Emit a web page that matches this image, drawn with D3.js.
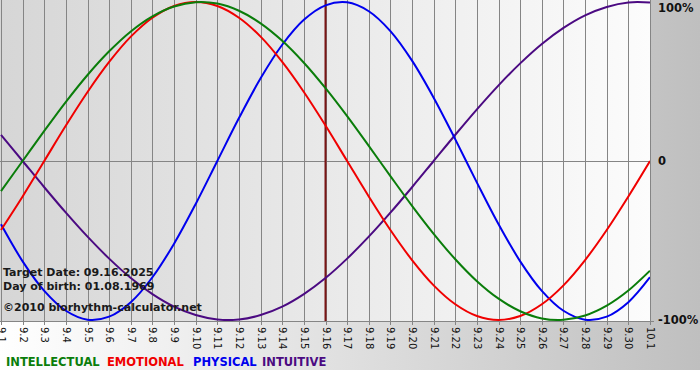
<!DOCTYPE html>
<html><head><meta charset="utf-8">
<script src="https://cdn.jsdelivr.net/npm/d3@7"></script>
<style>body{margin:0;background:#fff}svg{display:block}</style>
</head><body>
<svg id="c" width="700" height="380"></svg>
<script>
const days = ["9.1","9.2","9.3","9.4","9.5","9.6","9.7","9.8","9.9","9.10","9.11","9.12","9.13","9.14","9.15","9.16","9.17","9.18","9.19","9.20","9.21","9.22","9.23","9.24","9.25","9.26","9.27","9.28","9.29","9.30","10.1"];
const intellectual = [-0.189,0,0.189,0.372,0.541,0.690,0.815,0.910,0.972,0.999,0.990,0.945,0.866,0.756,0.618,0.458,0.282,0.095,-0.095,-0.282,-0.458,-0.618,-0.756,-0.866,-0.945,-0.990,-0.999,-0.972,-0.910,-0.815,-0.690];
const emotional = [-0.434,-0.223,0,0.223,0.434,0.623,0.782,0.901,0.975,1,0.975,0.901,0.782,0.623,0.434,0.223,0,-0.223,-0.434,-0.623,-0.782,-0.901,-0.975,-1,-0.975,-0.901,-0.782,-0.623,-0.434,-0.223,0];
const physical = [-0.398,-0.631,-0.817,-0.942,-0.998,-0.979,-0.888,-0.731,-0.520,-0.270,0,0.270,0.520,0.731,0.888,0.979,0.998,0.942,0.817,0.631,0.398,0.136,-0.136,-0.398,-0.631,-0.817,-0.942,-0.998,-0.979,-0.888,-0.731];
const intuitive = [0.165,0,-0.165,-0.325,-0.476,-0.614,-0.736,-0.837,-0.916,-0.969,-0.997,-0.997,-0.969,-0.916,-0.837,-0.736,-0.614,-0.476,-0.325,-0.165,0,0.165,0.325,0.476,0.614,0.736,0.837,0.916,0.969,0.997,0.997];
const yTicks = [1, 0, -1];
const yTickLabels = ["100%", "0", "-100%"];
const seriesNames = ["INTELLECTUAL","EMOTIONAL","PHYSICAL","INTUITIVE"];
const targetDay = "9.16";
const infoLines = ["Target Date: 09.16.2025","Day of birth: 01.08.1969","©2010 biorhythm-calculator.net"];

const colors = ["#0a7d0a","#f00000","#0000ee","#4b0a82"];
const seriesData = [intellectual, emotional, physical, intuitive];

const svg = d3.select("#c");
const defs = svg.append("defs");
const g1 = defs.append("linearGradient").attr("id","outer").attr("x1","0").attr("x2","1").attr("y1","0").attr("y2","0");
g1.append("stop").attr("offset","0").attr("stop-color","#ffffff");
g1.append("stop").attr("offset","1").attr("stop-color","#bfbfbf");
const g2 = defs.append("linearGradient").attr("id","plotbg").attr("x1","0").attr("x2","1").attr("y1","0").attr("y2","0");
g2.append("stop").attr("offset","0").attr("stop-color","#d6d6d6");
g2.append("stop").attr("offset","1").attr("stop-color","#fcfcfc");

const L = 1, R = 650, T = 2, B = 320, PB = 321;
svg.append("rect").attr("x",0).attr("y",0).attr("width",700).attr("height",370).attr("fill","url(#outer)");
svg.append("rect").attr("x",0).attr("y",0).attr("width",R).attr("height",PB).attr("fill","url(#plotbg)");

const x = d3.scalePoint().domain(days).range([L, R]);
const y = d3.scaleLinear().domain([-1, 1]).range([B, T]);

// vertical grid + ticks
const xAxis = d3.axisBottom(x).tickSize(PB + 4).tickSizeOuter(0).tickFormat(d => d);
const ax = svg.append("g").call(xAxis);
ax.select(".domain").remove();
ax.selectAll(".tick line").attr("stroke","#858585").attr("stroke-width",1).attr("shape-rendering","crispEdges");
ax.selectAll(".tick text")
  .attr("transform", "rotate(90)")
  .attr("x", PB + 6).attr("y", 0).attr("dy","0.35em")
  .attr("text-anchor","start")
  .attr("font-family","DejaVu Sans, Verdana, sans-serif").attr("font-size","10px").attr("fill","#111");

// y labels + horizontal grid
const yAxis = d3.axisRight(y).tickValues(yTicks).tickSize(0).tickFormat((d,i)=>yTickLabels[i]);
const ay = svg.append("g").attr("transform",`translate(${R},0)`).call(yAxis);
ay.select(".domain").remove();
ay.selectAll(".tick text").attr("x", 8).attr("font-family","DejaVu Sans, Verdana, sans-serif").attr("font-weight","bold").attr("font-size","11.5px").attr("fill","#111");
ay.selectAll(".tick").each(function(d){
  if (d === 1) d3.select(this).select("text").attr("dy","0.8em");
});
svg.append("line").attr("x1",0).attr("x2",R).attr("y1",Math.round(y(0))+0.5).attr("y2",Math.round(y(0))+0.5).attr("stroke","#858585").attr("stroke-width",1);
svg.append("line").attr("x1",0).attr("x2",R+4).attr("y1",PB+0.5).attr("y2",PB+0.5).attr("stroke","#858585").attr("stroke-width",1);

// target line
svg.append("line").attr("x1",x(targetDay)).attr("x2",x(targetDay)).attr("y1",0).attr("y2",PB)
  .attr("stroke","#7a1515").attr("stroke-width",2);

const line = d3.line().x((d,i)=>x(days[i])).y(d=>y(d)).curve(d3.curveCatmullRom.alpha(0.5));
const plotClip = defs.append("clipPath").attr("id","pc");
plotClip.append("rect").attr("x",0).attr("y",0).attr("width",R).attr("height",PB);
const lines = svg.append("g").attr("clip-path","url(#pc)");
[3,2,1,0].forEach(i => {
  lines.append("path").datum(seriesData[i]).attr("d", line).attr("fill","none")
    .attr("stroke", colors[i]).attr("stroke-width", 2);
});

// info texts
const info = svg.append("g").attr("font-family","DejaVu Sans, Verdana, sans-serif").attr("font-weight","bold").attr("font-size","11px").attr("fill","#1a1a1a");
[276, 290, 311].forEach((yy,i)=>{
  info.append("text").attr("x",3).attr("y",yy).text(infoLines[i]);
});

// legend
const leg = svg.append("g").attr("font-family","DejaVu Sans, Verdana, sans-serif").attr("font-weight","bold").attr("font-size","11.5px");
const legX = [6, 107, 193, 262];
seriesNames.forEach((n,i)=>{
  leg.append("text").attr("x",legX[i]).attr("y",366).attr("fill",colors[i]).text(n);
});
</script>
</body></html>
